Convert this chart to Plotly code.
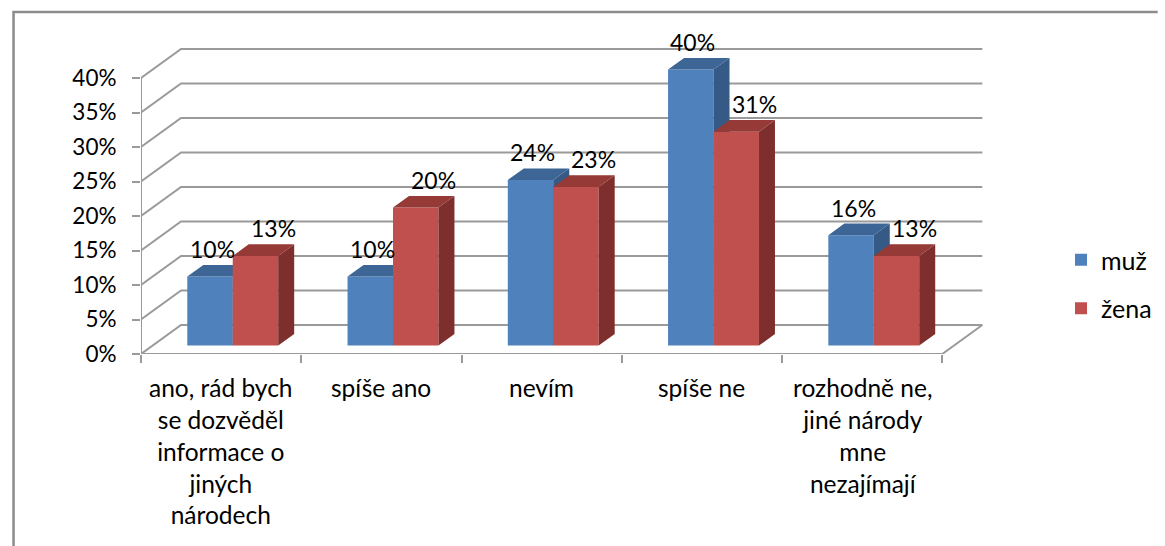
import textwrap
import plotly.graph_objects as go

# ---- data -------------------------------------------------------------
categories = [
    "ano, rád bych se dozvěděl informace o jiných národech",
    "spíše ano",
    "nevím",
    "spíše ne",
    "rozhodně ne, jiné národy mne nezajímají",
]
series_names = ["muž", "žena"]
muz = [10, 10, 24, 40, 16]
zena = [13, 20, 23, 31, 13]
y_ticks = [0, 5, 10, 15, 20, 25, 30, 35, 40]

# ---- geometry of the pseudo-3D frame (pixels) ---------------------------
W, H = 1165, 546
AX_LEFT, AX_BOTTOM = 141, 354        # front corner of the floor
PLOT_RIGHT, PLOT_TOP = 1060, 20
PX_PER_CAT = 162.2                   # width of one category slot
PX_PER_PCT = 6.9                     # vertical pixels per percent
DEPTH_PX = (40.5, 29.0)              # shift from front plane to back wall

DX = DEPTH_PX[0] / PX_PER_CAT        # depth in data units
DY = DEPTH_PX[1] / PX_PER_PCT
BAR_W = 46 / PX_PER_CAT
FRONT_F = 0.29                       # where the bar fronts sit in depth
BAR_F = 0.40                         # bar thickness as a share of depth

FONT = "Lato"
GRID = "#9a9a9a"
colors = {
    "muž": dict(front="#4F81BD", top="#3D6696", side="#355A86"),
    "žena": dict(front="#C0504D", top="#963A37", side="#7E2F2D"),
}
label_xshift = {"muž": 2, "žena": 18}

n = len(categories)
x_lo = -0.5
x_hi = x_lo + (PLOT_RIGHT - AX_LEFT) / PX_PER_CAT
y_hi = (AX_BOTTOM - PLOT_TOP) / PX_PER_PCT

fig = go.Figure()

# ---- back wall, side wall and floor -------------------------------------
gx, gy = [], []
for v in y_ticks:
    gx += [x_lo, x_lo + DX, n - 0.5 + DX, None]
    gy += [v, v + DY, v + DY, None]
gx += [x_lo, x_lo, None, x_lo, n - 0.5, n - 0.5 + DX]
gy += [y_ticks[-1], 0, None, 0, 0, DY]
fig.add_trace(go.Scatter(x=gx, y=gy, mode="lines", line=dict(color=GRID, width=2),
                         hoverinfo="skip", showlegend=False, cliponaxis=False,
                         xaxis="x", yaxis="y"))

# ---- bars: one overlaid layer per series so later series sit in front ----
base = FRONT_F * DY
ddx, ddy = BAR_F * DX, BAR_F * DY
annotations = []
for k, (name, vals) in enumerate(zip(series_names, [muz, zena])):
    xa, ya = f"x{k + 2}", f"y{k + 2}"
    off = -BAR_W if k == 0 else 0.0
    centers = [i + FRONT_F * DX for i in range(n)]
    c = colors[name]
    fig.add_trace(go.Bar(x=centers, y=vals, base=base, width=BAR_W, offset=off,
                         name=name, legendgroup=name, marker=dict(color=c["front"], line=dict(width=0)),
                         xaxis=xa, yaxis=ya, hoverinfo="skip"))
    tx, ty, sx, sy = [], [], [], []
    for cx, v in zip(centers, vals):
        x0 = cx + off
        x1 = x0 + BAR_W
        yt = base + v
        tx += [x0, x1, x1 + ddx, x0 + ddx, x0, None]
        ty += [yt, yt, yt + ddy, yt + ddy, yt, None]
        sx += [x1, x1, x1 + ddx, x1 + ddx, x1, None]
        sy += [base, yt, yt + ddy, base + ddy, base, None]
        annotations.append(dict(x=x0 + BAR_W / 2, y=yt + ddy, xref=xa, yref=ya,
                                text=f"{v}%", showarrow=False, yanchor="bottom",
                                xanchor="center", xshift=label_xshift[name], yshift=0,
                                font=dict(family=FONT, size=23, color="#000")))
    for px, py, col in [(sx, sy, c["side"]), (tx, ty, c["top"])]:
        fig.add_trace(go.Scatter(x=px, y=py, mode="lines", fill="toself", fillcolor=col,
                                 line=dict(width=0, color=col), hoverinfo="skip",
                                 showlegend=False, xaxis=xa, yaxis=ya, cliponaxis=False))

# ---- category labels under the floor -------------------------------------
for i, cat in enumerate(categories):
    annotations.append(dict(x=i, y=0, xref="x", yref="y",
                            text="<br>".join(textwrap.wrap(cat, 13)),
                            showarrow=False, yanchor="top", xanchor="center", yshift=-17,
                            align="center", font=dict(family=FONT, size=24.5, color="#000")))

# ---- outer frame ---------------------------------------------------------
pw = PLOT_RIGHT - AX_LEFT
ph = AX_BOTTOM - PLOT_TOP
def px_to_paper_x(p):
    return (p - AX_LEFT) / pw
def px_to_paper_y(p):
    return (AX_BOTTOM - p) / ph

shapes = [dict(type="path", xref="paper", yref="paper",
               path=(f"M{px_to_paper_x(12)},{px_to_paper_y(H + 5)} "
                     f"L{px_to_paper_x(12)},{px_to_paper_y(12)} "
                     f"L{px_to_paper_x(W + 5)},{px_to_paper_y(12)}"),
               line=dict(color="#8c8c8c", width=2.5), layer="above")]

axis_hidden = dict(visible=False, showgrid=False, zeroline=False)
fig.update_layout(
    width=W, height=H,
    margin=dict(l=AX_LEFT, r=W - PLOT_RIGHT, t=PLOT_TOP, b=H - AX_BOTTOM, pad=0),
    paper_bgcolor="white", plot_bgcolor="rgba(0,0,0,0)",
    font=dict(family=FONT, size=22, color="#000"),
    barmode="overlay",
    xaxis=dict(range=[x_lo, x_hi], tickvals=[i - 0.5 for i in range(n + 1)],
               showticklabels=False, ticks="outside", ticklen=8, tickwidth=2,
               tickcolor=GRID, showgrid=False, zeroline=False, showline=False),
    yaxis=dict(range=[0, y_hi], tickvals=y_ticks, ticktext=[f"{t}%" for t in y_ticks],
               ticks="outside", ticklen=8, tickwidth=2, tickcolor=GRID,
               ticklabelstandoff=11, tickfont=dict(family=FONT, size=22.5, color="#000"),
               showgrid=False, zeroline=False, showline=False),
    xaxis2=dict(overlaying="x", anchor="y2", range=[x_lo, x_hi], **axis_hidden),
    yaxis2=dict(overlaying="y", anchor="x2", range=[0, y_hi], **axis_hidden),
    xaxis3=dict(overlaying="x", anchor="y3", range=[x_lo, x_hi], **axis_hidden),
    yaxis3=dict(overlaying="y", anchor="x3", range=[0, y_hi], **axis_hidden),
    legend=dict(xref="container", yref="container", x=1061 / W, y=1 - 237 / H,
                xanchor="left", yanchor="top", traceorder="grouped", tracegroupgap=13,
                bgcolor="rgba(0,0,0,0)", font=dict(family=FONT, size=25, color="#000")),
    annotations=annotations,
    shapes=shapes,
)

fig.write_html("out.html")
